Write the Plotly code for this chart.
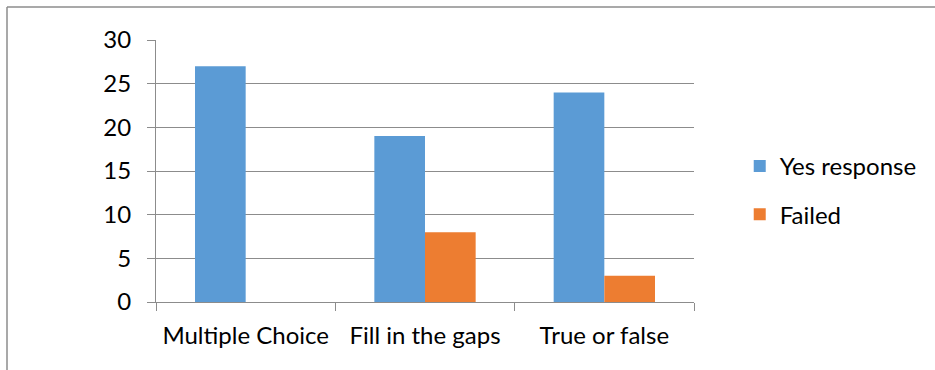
import plotly.graph_objects as go

categories = ["Multiple Choice", "Fill in the gaps", "True or false"]
yes_response = [27, 19, 24]
failed = [0, 8, 3]

FONT = "Lato"
GRID = "#8c8c8c"

fig = go.Figure()
fig.add_trace(go.Bar(name="Yes response", x=categories, y=yes_response,
                     legendgroup="yes",
                     marker=dict(color="#5b9bd5", line=dict(width=0))))
fig.add_trace(go.Bar(name="Failed", x=categories, y=failed,
                     legendgroup="failed",
                     marker=dict(color="#ed7d31", line=dict(width=0))))

fig.update_layout(
    width=935, height=370,
    margin=dict(l=156, r=241, t=40, b=68),
    paper_bgcolor="white", plot_bgcolor="white",
    barmode="group", bargap=0.435, bargroupgap=0,
    font=dict(family=FONT, size=24, color="#000000"),
    legend=dict(x=1.085, y=0.4256, xanchor="left", yanchor="middle",
                font=dict(family=FONT, size=24), traceorder="grouped",
                tracegroupgap=14, itemwidth=30, bgcolor="rgba(0,0,0,0)"),
    showlegend=True,
)
fig.update_xaxes(showline=True, linecolor=GRID, linewidth=1,
                 ticks="outside", tickson="boundaries", ticklen=8, tickcolor=GRID,
                 showgrid=False, ticklabelstandoff=12,
                 tickfont=dict(family=FONT, size=24))
fig.update_yaxes(range=[0, 30], dtick=5, showgrid=True, gridcolor=GRID, gridwidth=1,
                 showline=True, linecolor=GRID, linewidth=1,
                 ticks="outside", ticklen=8, tickcolor=GRID, zeroline=False,
                 ticklabelstandoff=11, tickfont=dict(family=FONT, size=24))

# outer chart frame (top and left edges)
fig.add_shape(type="line", xref="paper", yref="paper",
              x0=-149 / 538, x1=935 / 538, y0=(302 - 7) / 262, y1=(302 - 7) / 262,
              line=dict(color="#8c8c8c", width=1.5))
fig.add_shape(type="line", xref="paper", yref="paper",
              x0=-149 / 538, x1=-149 / 538, y0=(302 - 7) / 262, y1=(302 - 372) / 262,
              line=dict(color="#8c8c8c", width=1.5))

fig.write_html("out.html")
